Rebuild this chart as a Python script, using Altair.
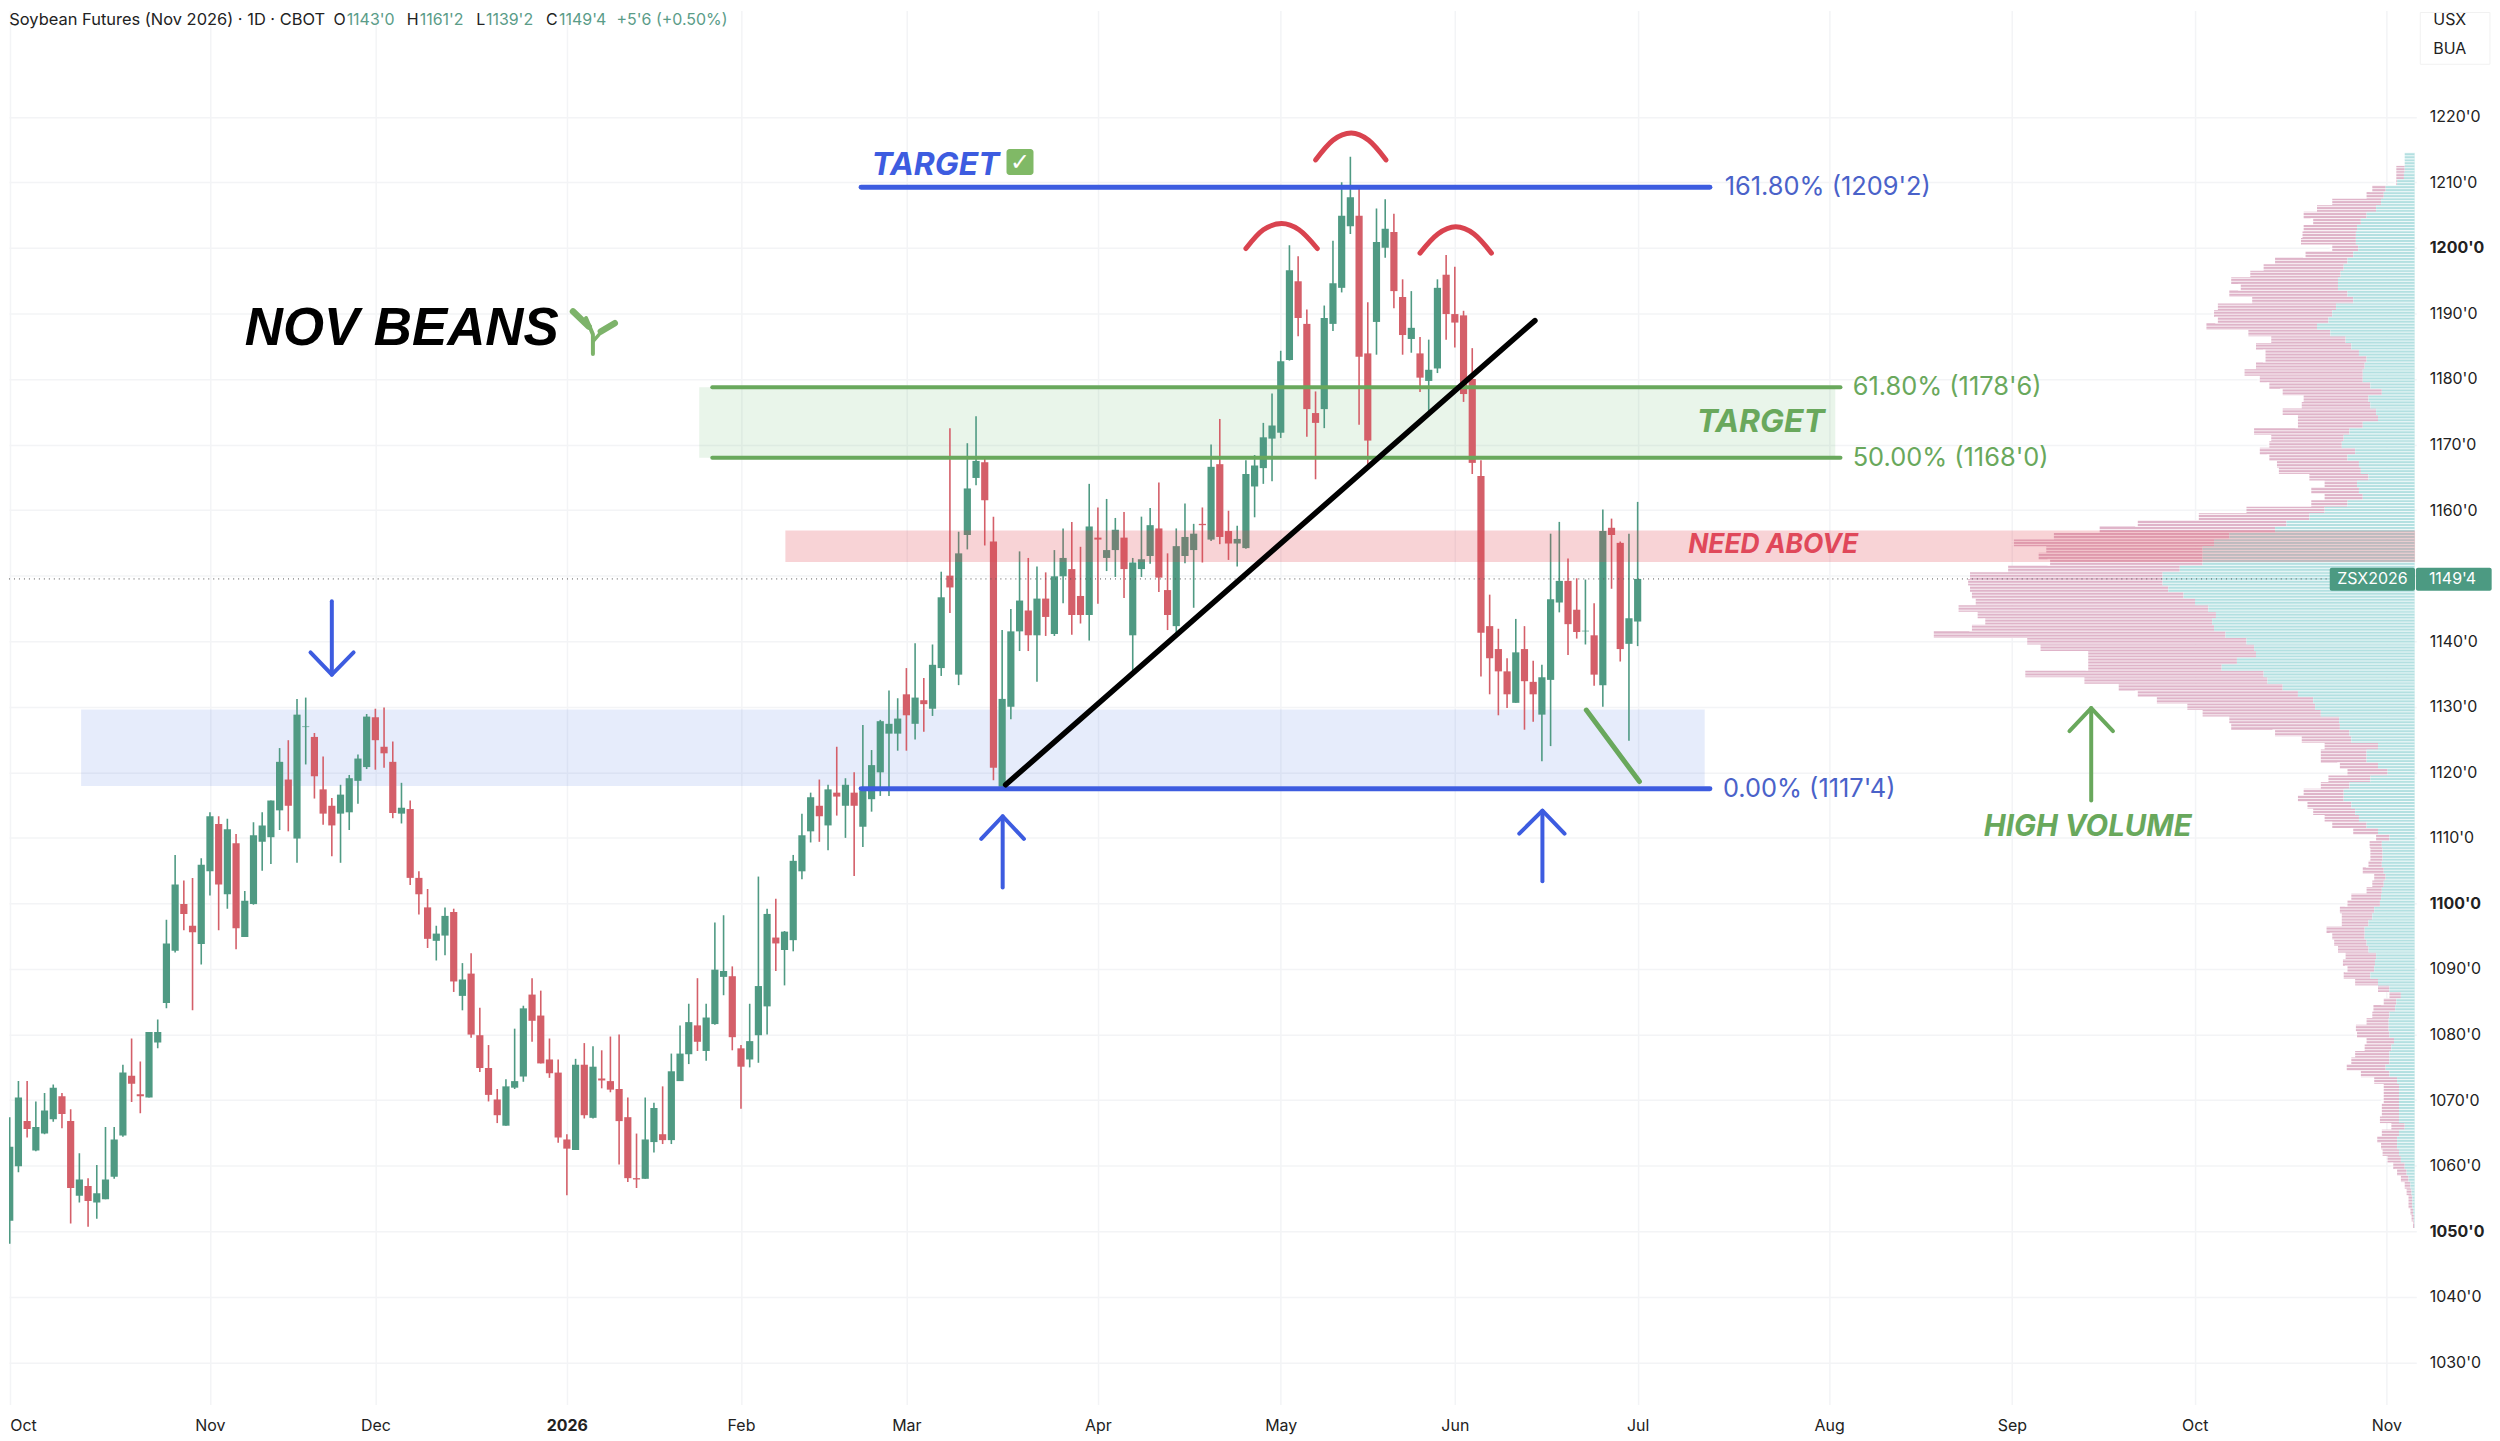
import altair as alt
import pandas as pd

opens = [1062,1051.6,1059.9,1066.8,1062.3,1064.9,1067.1,1070.6,1066.8,1055.4,
1056.9,1054.4,1054.9,1058.3,1064.6,1073.7,1070.9,1070.4,1078.8,1084.8,
1092.8,1099.9,1096.6,1093.8,1104.9,1112.1,1101.4,1109.2,1094.9,1099.9,
1109.4,1110.1,1114.2,1118.9,1109.9,1126.9,1125.4,1117.4,1114.9,1113.7,
1113.9,1118.7,1120.8,1128.4,1123.9,1121.6,1113.7,1114.4,1103.9,1099.4,
1094.3,1095.1,1098.7,1085.9,1089.3,1079.9,1074.9,1070.1,1066.1,1071.9,
1073.6,1086.1,1082.9,1076.2,1074.2,1064,1062.4,1075.4,1067.3,1073.3,
1072.9,1071.7,1067.4,1058.1,1058,1063.6,1064.8,1063.9,1072.9,1077,
1081.4,1077.5,1081.6,1088.8,1088.9,1077.9,1076.2,1079.9,1084.3,1094.8,
1092.9,1094.4,1104.9,1111,1114.9,1111.9,1116.9,1114.9,1116.9,1111.7,
1115.9,1120,1125.9,1125.9,1131.9,1127.4,1131,1129.7,1135.9,1150,
1134.9,1156.2,1164.9,1167.3,1155.2,1117.8,1130,1141.5,1144.7,1140.9,
1146.5,1141.1,1149.9,1151,1146.9,1144,1155.8,1152.7,1153.9,1155.8,
1140.9,1151,1153,1157.2,1147.8,1142.3,1153,1153.9,1157.9,1155.5,
1167,1156.8,1154.9,1154.2,1163.6,1166.4,1170.9,1171.8,1182.9,1194.9,
1188.4,1174.8,1175.4,1188.4,1193.9,1203.3,1204.9,1183.9,1188.7,1200,
1202.4,1192.5,1186.1,1183.9,1179.7,1181.6,1195.9,1189.9,1189.7,1180,
1165.2,1142.3,1138.8,1135.4,1130.6,1138.8,1133.8,1128.8,1134.1,1145.9,
1149.2,1144.8,1141.5,1140.9,1133.3,1157.3,1155,1139.6,1143.0]
closes = [1053.8,1062.9,1070.4,1065.6,1065.9,1068.4,1071.9,1067.9,1056.6,1057.9,
1054.6,1055.8,1057.9,1064,1074.2,1072.5,1070.6,1080.4,1080.4,1093.9,
1102.9,1098.4,1095.6,1105.9,1113.3,1102.9,1111.3,1096.2,1100.4,1110.4,
1111.9,1115.7,1121.6,1114.9,1128.8,1127,1119.4,1113.7,1111.9,1116.6,
1119.1,1122.1,1128.5,1124.9,1122.9,1113.8,1114.6,1103.9,1101.4,1094.6,
1095.4,1098.1,1088.1,1088.4,1080,1074.9,1070.8,1067.7,1072.1,1072.9,
1084,1082.1,1075.6,1074.1,1064.3,1062.6,1075.4,1067.7,1075.1,1073,
1071.6,1066.8,1058.1,1057.9,1064,1068.8,1063.9,1074.4,1077.1,1081.9,
1078.9,1082.6,1089.9,1089.7,1079.6,1075.1,1079,1087.4,1098.4,1093.9,
1095.7,1106.5,1110.4,1116.2,1113.3,1117.4,1116.3,1118.1,1114.9,1117.2,
1121.1,1127.8,1127.4,1128.2,1128.7,1131.4,1130.4,1136.4,1146.7,1148.2,
1153.4,1163.3,1167.5,1161.5,1120.7,1131.2,1141.5,1146.2,1140.9,1146.5,
1143.7,1149.9,1152.7,1144,1144,1157.5,1155.5,1153.9,1157,1151,
1152,1152.5,1157.7,1149.7,1144,1154.5,1155.9,1156.4,1157.7,1166.6,
1155.9,1154.9,1155.6,1165.5,1166.8,1171.1,1172.9,1182.7,1196.6,1189.3,
1175.4,1173.3,1189.3,1194.6,1204.9,1207.7,1183.4,1170.6,1200.9,1202.9,
1193.4,1186.7,1187.8,1180.2,1181.4,1193.9,1189.9,1188.6,1177.7,1167.2,
1141.3,1137.4,1135.4,1131.9,1138.3,1133.9,1131.9,1134.5,1146.4,1149.2,
1142.6,1141.4,1141.6,1134.9,1156.8,1156.2,1138.8,1143.5,1149.5]
highs = [1062.5,1067.4,1072.9,1072.9,1069.8,1071.1,1072.4,1071.1,1068.6,1061.9,
1058.1,1060.1,1065.9,1065.9,1075.4,1079.4,1075.9,1080.4,1082.3,1097.5,
1107.4,1103.5,1103.9,1106.9,1113.9,1113.3,1112.9,1110.6,1101.9,1112.4,
1113.9,1115.7,1123.7,1124.9,1131.2,1131.4,1126,1122.4,1116.1,1118.1,
1119.6,1122.7,1128.9,1129.7,1129.9,1124.7,1118.4,1115.7,1104.9,1102.2,
1096.6,1099.4,1099.2,1090.9,1092.4,1084.1,1078.4,1071.7,1073.2,1080.9,
1084.4,1088.6,1086.7,1079.4,1076.2,1064.8,1076.3,1078.7,1078.2,1077.6,
1079.7,1080,1070.4,1064.9,1070.4,1069.6,1072.1,1077.1,1081.4,1084.7,
1088.6,1084.7,1097.1,1098.2,1090.4,1078.4,1084.7,1104.1,1099.2,1100.7,
1095.8,1107.4,1113.7,1116.9,1118.9,1118.1,1123.9,1119.1,1120,1127.2,
1123.4,1128,1132.5,1131.3,1135.9,1139.7,1134.4,1139.5,1150.6,1172.5,
1156.7,1170.2,1174.3,1167.9,1159,1141.7,1144.9,1153.7,1152.7,1151.4,
1150.5,1153.9,1157.2,1158.2,1154.4,1164,1160.4,1161.7,1158.8,1159.7,
1152.7,1159,1160.3,1164.2,1153.4,1157.2,1161,1157.9,1160.4,1170,
1173.9,1159.9,1157.6,1167.6,1168.4,1173.3,1177.8,1184.3,1200.4,1198.7,
1190.6,1178.1,1191.2,1201.1,1210,1213.9,1209.1,1191.7,1206,1207.4,
1205.2,1195.2,1193.4,1186.4,1186,1195.2,1198.9,1197.1,1190.4,1184.7,
1167.6,1147.1,1141.9,1137.4,1143.4,1142.3,1137,1136.4,1156.4,1158.2,
1152.6,1149.6,1149.4,1145.8,1160.1,1158.7,1155.2,1156.4,1161.25]
lows = [1051.1,1048.1,1059,1064.3,1062.2,1064.8,1066.7,1065.7,1051.2,1054.4,
1050.7,1051.9,1054.9,1058,1064.4,1069.7,1068,1070.4,1077.9,1084,
1092.5,1095.9,1083.7,1090.7,1101.2,1095.9,1099.2,1093,1094.9,1099.8,
1105,1106,1111.2,1111,1106.2,1121.2,1116,1112,1107.2,1106.2,
1111.2,1115.2,1120.5,1120.4,1120.7,1113,1112.2,1102.8,1098.3,1093.2,
1091.3,1092.1,1086.5,1083.7,1079.5,1074.3,1069.8,1066.5,1066.1,1071.7,
1072.8,1078.9,1075.6,1073.4,1063.5,1055.5,1062.4,1067.2,1067.2,1071.8,
1071.2,1060.2,1057.5,1056.6,1058,1062,1063.3,1063.3,1072.9,1075.5,
1077.5,1076,1081.5,1086,1077.6,1068.7,1075,1075.7,1080,1089.7,
1087.5,1092.7,1103.7,1109.3,1109.4,1108.1,1113.4,1110,1104.2,1108.6,
1114,1116.4,1116.4,1123.3,1123.3,1125,1126.2,1128.6,1134.7,1144.3,
1133.3,1154,1163.8,1154.6,1118.8,1117.6,1128.1,1138.5,1138.5,1133.8,
1140.8,1140.8,1145.8,1141,1142.7,1140.1,1145.7,1150.7,1149.8,1146.6,
1135,1149.8,1151.8,1147.5,1141.7,1140.9,1151.9,1145.1,1152,1155.3,
1154.8,1152.4,1151.4,1154.1,1158.9,1164,1164.4,1171,1182.8,1186.5,
1171.2,1164.7,1172.5,1187.3,1193.2,1202.1,1173,1167,1183.7,1198.5,
1190.8,1183.7,1184,1178,1175.1,1180.9,1186,1184.8,1176.5,1165.5,
1134.6,1131.9,1128.7,1129.8,1130.6,1126.5,1127.7,1121.7,1124,1144.4,
1137.9,1140.4,1139.5,1133.2,1130,1148,1136.9,1124.8,1139.25]

# Volume profile, price levels 1214 down to 1051
vol_total = [26,26,48,48,48,111,126,216,256,291,266,291,294,298,216,286,366,396,431,481,456,486,426,516,526,516,546,436,376,416,
391,391,416,446,406,381,346,291,296,346,306,306,421,376,381,406,381,361,356,276,236,271,236,271,441,566,726,826,946,1051,
966,986,956,1066,1166,1171,1166,1161,1151,1196,1146,1126,1161,1261,1016,981,856,856,856,1021,866,776,726,676,596,556,486,481,366,296,
236,246,246,196,176,226,246,291,306,281,266,236,216,161,101,118,116,116,121,136,106,111,126,166,176,196,191,191,231,216,211,201,181,188,
176,186,156,96,66,81,108,111,126,154,151,126,131,156,166,178,141,106,81,81,81,86,86,91,61,86,98,88,84,71,56,46,36,26,21,16,16,11,8,4]
vol_up = [26,26,26,28,46,76,81,88,101,126,141,151,154,154,148,161,176,186,194,201,201,176,161,206,216,226,256,221,181,166,
146,126,131,136,136,116,86,121,116,101,96,136,171,186,191,156,176,146,141,121,151,146,136,176,236,276,336,366,486,526,
556,556,556,616,661,661,646,606,576,541,521,531,526,496,441,421,416,466,506,396,386,346,306,266,261,246,198,196,171,166,
96,126,126,96,71,116,171,186,186,166,156,146,126,96,66,86,84,84,86,81,76,81,86,88,91,106,111,121,131,131,126,121,101,104,
106,116,96,66,36,48,51,66,68,68,66,54,61,66,66,76,66,46,41,41,41,41,41,41,26,41,46,46,41,36,26,21,16,11,8,6,6,4,2,1]
vol_levels = list(range(1214, 1050, -1))

price_ticks = list(range(1030, 1221, 10))
month_ticks = [2, 25, 44, 66, 86, 105, 127, 148, 168, 189, 211, 232, 253, 275]
month_labels = ["Oct", "Nov", "Dec", "2026", "Feb", "Mar", "Apr", "May", "Jun", "Jul", "Aug", "Sep", "Oct", "Nov"]

GREEN, RED = "#46967c", "#d93c4a"
WICK_G, WICK_R = "#4f9a83", "#d45f69"
BLUE, LGREEN = "#3d5ce0", "#69a85c"
FONT = "Inter"

xs = alt.Scale(domain=[1.916, 278.44], nice=False, zero=False, padding=0)
ys = alt.Scale(domain=[1023.57, 1236.19], nice=False, zero=False, padding=0)
label_map = "{" + ",".join(f"{t}:'{l}'" for t, l in zip(month_ticks, month_labels)) + "}"
x_axis = alt.Axis(
    values=month_ticks, grid=True, gridColor="#f3f4f6", gridWidth=1.5, domain=False, ticks=False, title=None,
    labelExpr=f"{label_map}[datum.value]", labelFont=FONT, labelFontSize=16, labelColor="#222",
    labelPadding=13, labelOverlap=False, labelBound=False,
    labelFontWeight={"condition": {"test": "datum.value==66", "value": "bold"}, "value": "normal"},
    labelAlign={"condition": {"test": "datum.value==2", "value": "left"}, "value": "center"})
y_axis = alt.Axis(
    orient="right", values=price_ticks, grid=True, gridColor="#f3f4f6", gridWidth=1.5, domain=False, ticks=False, title=None,
    labelExpr="datum.value + \"'0\"", labelFont=FONT, labelFontSize=16, labelColor="#222",
    labelPadding=13, labelOverlap=False, labelAlign="left",
    labelFontWeight={"condition": {"test": "datum.value==1200||datum.value==1100||datum.value==1050", "value": "bold"}, "value": "normal"})


def XF(f):
    return alt.X(f, scale=xs, axis=x_axis)


def YF(f):
    return alt.Y(f, scale=ys, axis=y_axis)


X, Y = XF("i:Q"), YF("p:Q")

candles = pd.DataFrame({"i": range(1, len(opens) + 1), "o": opens, "h": highs, "l": lows, "c": closes})
candles["dir"] = ["up" if c >= o else "down" for o, c in zip(opens, closes)]

wicks = alt.Chart(candles).mark_rule(strokeWidth=1.6, clip=True).encode(
    x=X, y=YF("l:Q"), y2="h:Q",
    color=alt.Color("dir:N", scale=alt.Scale(domain=["up", "down"], range=[WICK_G, WICK_R]), legend=None),
)
bodies = alt.Chart(candles).mark_bar(size=7.2, clip=True).encode(
    x=X, y=YF("o:Q"), y2="c:Q",
    color=alt.Color("dirb:N", scale=alt.Scale(domain=["up", "down"], range=[GREEN, RED]), legend=None),
).transform_calculate(dirb="datum.dir")


def box(i0, i1, p0, p1, **mark):
    d = pd.DataFrame({"i": [i0], "i2": [i1], "p": [p0], "p2": [p1]})
    return alt.Chart(d).mark_rect(**mark).encode(x=X, x2="i2:Q", y=Y, y2="p2:Q")


def line(pts, color, width, **mark):
    d = pd.DataFrame({"i": [a for a, _ in pts], "p": [b for _, b in pts], "o": range(len(pts))})
    return alt.Chart(d).mark_line(color=color, strokeWidth=width, strokeCap="round", strokeJoin="round", **mark).encode(
        x=X, y=Y, order=alt.Order("o:Q"))


def text(t, i, p, size, color, font=FONT, **mark):
    d = pd.DataFrame({"i": [i], "p": [p], "t": [t]})
    mark.setdefault("align", "left")
    mark.setdefault("baseline", "middle")
    return alt.Chart(d).mark_text(font=font, fontSize=size, color=color, **mark).encode(
        x=X, y=Y, text="t:N")


profile = pd.DataFrame({"p": vol_levels, "up": vol_up, "tot": vol_total})
R_EDGE, K = 278.25, 0.0438
profile["i_up"] = R_EDGE - profile["up"] * K
profile["i_tot"] = R_EDGE - profile["tot"] * K
profile["p0"] = profile["p"] - 0.5
profile["p1"] = profile["p"] + 0.5
profile["i_r"] = R_EDGE
vp_pink = alt.Chart(profile).mark_rect(color="#dfb4c9").encode(x=XF("i_tot:Q"), x2="i_up:Q", y=YF("p0:Q"), y2="p1:Q")
vp_teal = alt.Chart(profile).mark_rect(color="#b3e0e1").encode(x=XF("i_up:Q"), x2="i_r:Q", y=YF("p0:Q"), y2="p1:Q")

# thin white separators that give the profile its fine row texture
STEP = 0.456
n_sep = int((1214.5 - 1050.5) / STEP)
seps = []
for n in range(n_sep):
    sp = 1214.5 - n * STEP
    lvl = min(1214, max(1051, round(sp)))
    seps.append({"p": sp, "i": R_EDGE - vol_total[1214 - lvl] * K - 0.3, "i2": R_EDGE})
vp_seps = alt.Chart(pd.DataFrame(seps)).mark_rule(color="#ffffff", strokeWidth=0.8).encode(x=X, x2="i2:Q", y=Y)

layers = [
    box(10.2, 196.7, 1117.9, 1129.6, color="#3f6de0", opacity=0.13),
    box(81.2, 211.7, 1168, 1178.75, color="#4caf50", opacity=0.12),
    wicks, bodies,
    vp_pink, vp_teal, vp_seps,
    box(91.1, 278.3, 1152.1, 1156.9, color="#e0404f", opacity=0.23),
    # price line
    alt.Chart(pd.DataFrame({"p": [1149.5], "i": [1.916], "i2": [268.5]})).mark_rule(
        color="#555", strokeWidth=1, strokeDash=[1, 4]).encode(x=X, x2="i2:Q", y=Y),
    # levels
    line([(99.8, 1209.25), (197.3, 1209.25)], BLUE, 5),
    line([(99.8, 1117.5), (197.3, 1117.5)], BLUE, 5),
    line([(82.7, 1178.75), (212.3, 1178.75)], LGREEN, 4),
    line([(82.7, 1168), (212.3, 1168)], LGREEN, 4),
    line([(116.4, 1118.1), (177.2, 1188.9)], "#000", 5.5),
    line([(183.1, 1129.5), (189.2, 1118.6)], LGREEN, 5),
    # arcs
    line([(144.0, 1199.9), (146.0, 1202.75), (148.1, 1203.7), (150.1, 1202.75), (152.2, 1199.9)], "#d9434f", 5, interpolate="monotone"),
    line([(152.0, 1213.4), (154.0, 1216.4), (156.1, 1217.5), (158.1, 1216.4), (160.1, 1213.4)], "#d9434f", 5, interpolate="monotone"),
    line([(164.0, 1199.2), (166.05, 1202.1), (168.1, 1203.2), (170.2, 1202.1), (172.2, 1199.2)], "#d9434f", 5, interpolate="monotone"),
    # arrows
    line([(39.0, 1146.1), (39.0, 1134.9)], BLUE, 4),
    line([(36.55, 1138.3), (39.0, 1134.9), (41.5, 1138.3)], BLUE, 4),
    line([(116.06, 1102.45), (116.06, 1113.3)], BLUE, 4),
    line([(113.6, 1109.85), (116.06, 1113.3), (118.5, 1109.85)], BLUE, 4),
    line([(178.06, 1103.4), (178.06, 1114.15)], BLUE, 4),
    line([(175.4, 1110.65), (178.06, 1114.15), (180.6, 1110.65)], BLUE, 4),
    line([(241.1, 1115.7), (241.1, 1129.8)], LGREEN, 4),
    line([(238.6, 1126.3), (241.1, 1129.8), (243.6, 1126.3)], LGREEN, 4),
    # seedling
    line([(68.99, 1183.8), (68.99, 1186.8), (68.2, 1189.3)], "#7db36a", 4),
    line([(66.7, 1190.3), (68.5, 1188.0)], "#7db36a", 6.5),
    line([(68.99, 1185.7), (70.2, 1187.55)], "#7db36a", 3.5),
    line([(69.9, 1187.25), (71.5, 1188.5)], "#7db36a", 6.5),
    # check box
    box(116.5, 119.6, 1211.1, 1215.06, color="#80b966", cornerRadius=3),
    text("✓", 118.05, 1213.0, 24, "#ffffff", font="DejaVu Sans", fontWeight="bold", align="center"),
    # texts
    text("TARGET", 101.0, 1212.7, 32, BLUE, fontWeight="bold", fontStyle="italic"),
    text("NOV BEANS", 29.0, 1187.55, 53, "#000000", font="Liberation Sans", fontWeight="bold", fontStyle="italic"),
    text("161.80% (1209'2)", 199.0, 1209.25, 25.5, "#4a62c9"),
    text("0.00% (1117'4)", 198.8, 1117.5, 25.5, "#4a62c9"),
    text("61.80% (1178'6)", 213.7, 1178.75, 25.5, LGREEN),
    text("50.00% (1168'0)", 213.7, 1167.9, 25.5, LGREEN),
    text("TARGET", 195.8, 1173.4, 32, LGREEN, fontWeight="bold", fontStyle="italic"),
    text("NEED ABOVE", 194.8, 1154.6, 26.5, "#e0485a", fontWeight="bold", fontStyle="italic"),
    text("HIGH VOLUME", 240.7, 1111.7, 29.5, LGREEN, fontWeight="bold", fontStyle="italic", align="center"),
    # header
    text("Soybean Futures (Nov 2026) · 1D · CBOT", 1.95, 1236.0, 16.5, "#222", baseline="top"),
    text("O", 39.2, 1236.0, 16, "#222", baseline="top"),
    text("1143'0", 40.7, 1236.0, 16, "#5a9c88", baseline="top"),
    text("H", 47.6, 1236.0, 16, "#222", baseline="top"),
    text("1161'2", 49.1, 1236.0, 16, "#5a9c88", baseline="top"),
    text("L", 55.6, 1236.0, 16, "#222", baseline="top"),
    text("1139'2", 56.7, 1236.0, 16, "#5a9c88", baseline="top"),
    text("C", 63.6, 1236.0, 16, "#222", baseline="top"),
    text("1149'4", 65.1, 1236.0, 16, "#5a9c88", baseline="top"),
    text("+5'6 (+0.50%)", 71.7, 1236.0, 16, "#5a9c88", baseline="top"),
    # right tags
    box(278.9, 286.9, 1228, 1235.9, fill="#ffffff", stroke="#f1f1f1", strokeWidth=1),
    text("USX", 280.4, 1236.0, 16, "#222", baseline="top"),
    text("BUA", 280.4, 1230.4, 16, "#222"),
    box(268.5, 278.3, 1147.7, 1151.2, color="#4c9a82", cornerRadius=2),
    box(278.4, 287.1, 1147.7, 1151.2, color="#4c9a82", cornerRadius=2),
    text("ZSX2026", 273.4, 1149.5, 16, "#ffffff", align="center"),
    text("1149'4", 282.6, 1149.5, 16, "#ffffff", align="center"),
]

chart = alt.layer(*layers).properties(width=2416, height=1399, padding=0, background="#ffffff").configure_view(stroke=None)
chart.save("out.html", embed_options={"renderer": "svg", "actions": False})
